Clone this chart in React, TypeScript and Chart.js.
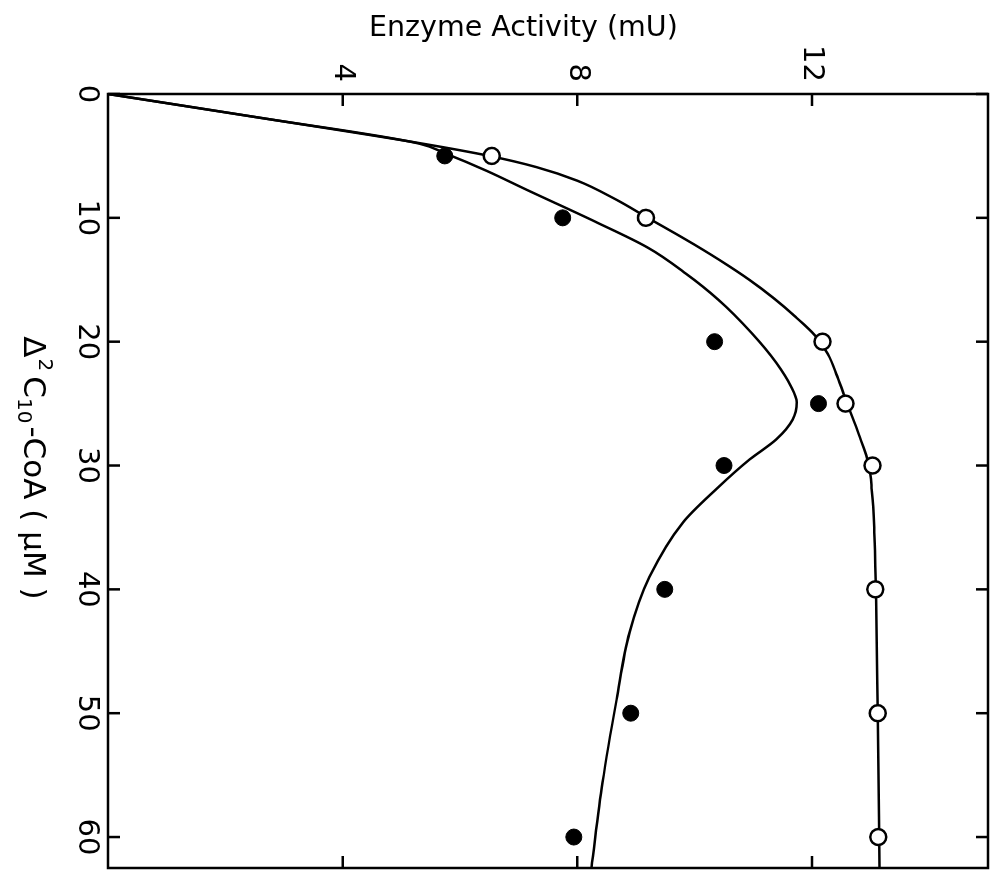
import React, { useEffect, useRef } from "react";
import { Chart, registerables } from "chart.js";

Chart.register(...registerables);

// Axis ticks
const concentrationTicks = [0, 10, 20, 30, 40, 50, 60];
const activityTicks = [4, 8, 12];

// Measured activities (mU) at each Δ²C10-CoA concentration (µM)
const pointConcentrations = [5, 10, 20, 25, 30, 40, 50, 60];
const openActivity = [6.54, 9.17, 12.18, 12.57, 13.03, 13.08, 13.12, 13.13];
const filledActivity = [5.74, 7.75, 10.34, 12.11, 10.5, 9.49, 8.91, 7.94];

// Hand-drawn fitted curves, sampled along their length
const upperCurveConc = [0, 2, 4, 5, 5.9, 7, 8.5, 10, 11.7, 13.4, 15, 16.5, 18, 19.5, 21, 22.8, 25, 27.5, 30, 32, 35, 40, 50, 62.5];
const upperCurveActivity = [0, 2.7, 5.35, 6.5, 7.3, 8.0, 8.65, 9.2, 9.83, 10.42, 10.93, 11.35, 11.72, 12.05, 12.27, 12.43, 12.6, 12.8, 12.97, 13.02, 13.06, 13.09, 13.12, 13.15];

const lowerCurveConc = [0, 2, 4, 4.8, 6.2, 7.7, 10.3, 12.4, 14.5, 16.6, 19.3, 21.7, 23.6, 24.9, 26.3, 27.9, 29.5, 31.9, 34.6, 39, 43.5, 48.9, 55.6, 62.5];
const lowerCurveActivity = [0, 2.7, 5.3, 5.75, 6.45, 7.12, 8.3, 9.2, 9.85, 10.4, 10.97, 11.39, 11.64, 11.74, 11.67, 11.39, 10.94, 10.37, 9.8, 9.23, 8.89, 8.67, 8.43, 8.24];

// Concentration axis title, set piece by piece for the super- and subscripts
const concentrationLabelParts = [
  { text: "Δ", size: 31, shift: 0, gap: 0 },
  { text: "2", size: 20, shift: -12, gap: 1 },
  { text: "C", size: 31, shift: 0, gap: 5 },
  { text: "10", size: 20, shift: 9, gap: 0 },
  { text: "-CoA", size: 31, shift: 0, gap: 3 },
  { text: " ( µM )", size: 31, shift: 0, gap: 0 },
];
const activityLabel = "Enzyme Activity (mU)";

const PAGE_W = 993;
const PAGE_H = 871;
// The chart is drawn upright and turned a quarter turn clockwise,
// so the canvas is as wide as the page is tall.
const CANVAS_W = PAGE_H;
const CANVAS_H = PAGE_W;

const FONT = "'DejaVu Sans', sans-serif";

const toXY = (xs: number[], ys: number[]) => xs.map((x, i) => ({ x, y: ys[i] }));

// Full box around the plot with inward tick marks on every side,
// plus the concentration axis title beneath the tick labels.
const framePlugin = {
  id: "frameWithInwardTicks",
  afterDraw(chart: any) {
    const { ctx, chartArea, scales } = chart;
    const { left, right, top, bottom } = chartArea;
    const len = 12;
    ctx.save();
    ctx.strokeStyle = "#000";
    ctx.lineWidth = 2.5;
    ctx.strokeRect(left, top, right - left, bottom - top);
    ctx.beginPath();
    for (const v of concentrationTicks) {
      const px = scales.x.getPixelForValue(v);
      ctx.moveTo(px, bottom);
      ctx.lineTo(px, bottom - len);
      ctx.moveTo(px, top);
      ctx.lineTo(px, top + len);
    }
    for (const v of activityTicks) {
      const py = scales.y.getPixelForValue(v);
      ctx.moveTo(left, py);
      ctx.lineTo(left + len, py);
      ctx.moveTo(right, py);
      ctx.lineTo(right - len, py);
    }
    ctx.stroke();

    // axis title, centred a little above the middle of the axis
    ctx.fillStyle = "#000";
    ctx.textAlign = "left";
    ctx.textBaseline = "middle";
    const widths = concentrationLabelParts.map((p) => {
      ctx.font = `${p.size}px ${FONT}`;
      return ctx.measureText(p.text).width;
    });
    const total = concentrationLabelParts.reduce((s, p, i) => s + p.gap + widths[i], 0);
    let cursor = left + 374 - total / 2;
    const baseY = chart.height - 32;
    concentrationLabelParts.forEach((p, i) => {
      cursor += p.gap;
      ctx.font = `${p.size}px ${FONT}`;
      ctx.fillText(p.text, cursor, baseY + p.shift);
      cursor += widths[i];
    });
    ctx.restore();
  },
};

const zeroPadding = (scale: any) => {
  scale.paddingTop = 0;
  scale.paddingBottom = 0;
  scale.paddingLeft = 0;
  scale.paddingRight = 0;
};

export default function App() {
  const canvasRef = useRef<HTMLCanvasElement>(null);

  useEffect(() => {
    const canvas = canvasRef.current;
    if (!canvas) return;
    const chart = new Chart(canvas, {
      type: "scatter",
      data: {
        datasets: [
          {
            label: "open",
            data: toXY(pointConcentrations, openActivity),
            pointStyle: "circle",
            pointRadius: 8,
            pointBackgroundColor: "#fff",
            pointBorderColor: "#000",
            pointBorderWidth: 2.5,
            showLine: false,
          },
          {
            label: "filled",
            data: toXY(pointConcentrations, filledActivity),
            pointStyle: "circle",
            pointRadius: 8,
            pointBackgroundColor: "#000",
            pointBorderColor: "#000",
            pointBorderWidth: 1,
            showLine: false,
          },
          {
            label: "upper curve",
            data: toXY(upperCurveConc, upperCurveActivity),
            showLine: true,
            pointRadius: 0,
            borderColor: "#000",
            borderWidth: 2.5,
            cubicInterpolationMode: "monotone",
            fill: false,
          },
          {
            label: "lower curve",
            data: toXY(lowerCurveConc, lowerCurveActivity),
            showLine: true,
            pointRadius: 0,
            borderColor: "#000",
            borderWidth: 2.5,
            cubicInterpolationMode: "monotone",
            fill: false,
          },
        ],
      },
      options: {
        responsive: false,
        animation: false,
        devicePixelRatio: 1,
        layout: { autoPadding: false, padding: { top: 5, right: 3, left: 0, bottom: 0 } },
        plugins: {
          legend: { display: false },
          tooltip: { enabled: false },
        },
        scales: {
          x: {
            type: "linear",
            position: "bottom",
            min: 0,
            max: 62.5,
            afterBuildTicks: (scale: any) => {
              scale.ticks = concentrationTicks.map((value) => ({ value }));
            },
            afterFit: (scale: any) => {
              scale.height = 108;
              zeroPadding(scale);
            },
            grid: { display: false, drawTicks: false },
            border: { display: false },
            ticks: {
              padding: 4,
              color: "#000",
              autoSkip: false,
              maxRotation: 0,
              minRotation: 0,
              font: { family: FONT, size: 29 },
              callback: (v: any) => `${v}`,
            },
            title: { display: false },
          },
          y: {
            type: "linear",
            position: "left",
            min: 0,
            max: 15,
            afterBuildTicks: (scale: any) => {
              scale.ticks = activityTicks.map((value) => ({ value }));
            },
            afterFit: (scale: any) => {
              scale.width = 94;
              zeroPadding(scale);
            },
            grid: { display: false, drawTicks: false },
            border: { display: false },
            ticks: {
              padding: 12,
              color: "#000",
              autoSkip: false,
              font: { family: FONT, size: 29 },
              callback: (v: any) => `${v}`,
            },
            title: { display: false },
          },
        },
      },
      plugins: [framePlugin],
    } as any);
    return () => chart.destroy();
  }, []);

  return (
    <div
      style={{
        position: "fixed",
        left: 0,
        top: 0,
        width: PAGE_W,
        height: PAGE_H,
        overflow: "hidden",
        background: "#fff",
      }}
    >
      <div
        style={{
          position: "absolute",
          left: 0,
          top: 0,
          width: CANVAS_W,
          height: CANVAS_H,
          transformOrigin: "0 0",
          transform: `translate(${PAGE_W}px, 0px) rotate(90deg)`,
        }}
      >
        <canvas
          ref={canvasRef}
          width={CANVAS_W}
          height={CANVAS_H}
          style={{ display: "block", width: CANVAS_W, height: CANVAS_H }}
        />
      </div>
      <div
        style={{
          position: "absolute",
          left: 369,
          top: 10,
          fontFamily: FONT,
          fontSize: 28.5,
          lineHeight: "33px",
          color: "#000",
          whiteSpace: "nowrap",
        }}
      >
        {activityLabel}
      </div>
    </div>
  );
}
